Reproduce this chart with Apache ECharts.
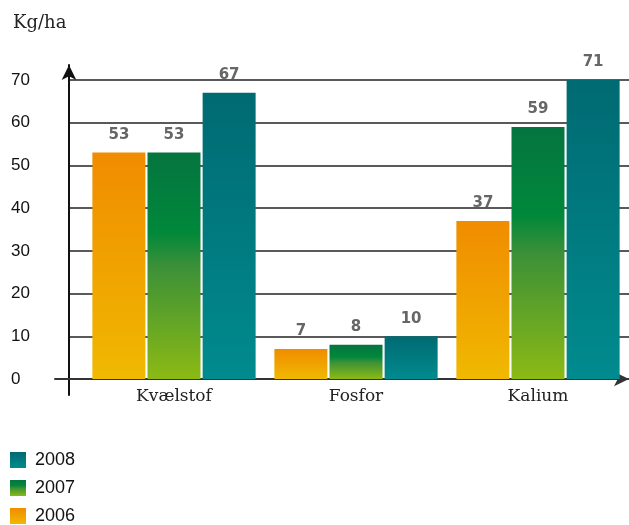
<!DOCTYPE html>
<html>
<head>
<meta charset="utf-8">
<script src="https://cdn.jsdelivr.net/npm/echarts@6/dist/echarts.min.js"></script>
<style>html,body{margin:0;padding:0;background:#fff}#c{width:629px;height:525px}</style>
</head>
<body>
<div id="c"></div>
<script>
const categories = ['Kvælstof', 'Fosfor', 'Kalium'];
const years = ['2006', '2007', '2008'];
const values2006 = [53, 7, 37];
const values2007 = [53, 8, 59];
const values2008 = [67, 10, 71];
const yTicks = [0, 10, 20, 30, 40, 50, 60, 70];
const unitLabel = 'Kg/ha';

const G = echarts.graphic.LinearGradient;
const colors = {
  '2006': new G(0, 0, 0, 1, [{offset: 0, color: '#F08C00'}, {offset: 1, color: '#F0B900'}]),
  '2007': new G(0, 0, 0, 1, [{offset: 0, color: '#05743F'}, {offset: 0.35, color: '#00883B'}, {offset: 0.5, color: '#3B9038'}, {offset: 1, color: '#8CBA14'}]),
  '2008': new G(0, 0, 0, 1, [{offset: 0, color: '#006A72'}, {offset: 1, color: '#008B8E'}])
};
const seriesValues = {'2006': values2006, '2007': values2007, '2008': values2008};

const chart = echarts.init(document.getElementById('c'), null, {renderer: 'canvas'});
const option = {
  animation: false,
  title: {
    text: unitLabel, left: 13, top: 14, padding: 0,
    textStyle: {fontFamily: 'DejaVu Serif', fontSize: 18, fontWeight: 'normal', color: '#222'}
  },
  legend: {
    data: ['2008', '2007', '2006'],
    orient: 'vertical', left: 10, top: 451, width: 120, height: 100, padding: 0,
    itemWidth: 16, itemHeight: 16, itemGap: 10, icon: 'rect',
    textStyle: {fontFamily: 'Liberation Sans', fontSize: 18, lineHeight: 16, padding: [0, 0, 0, 4], color: '#111'}
  },
  grid: [
    {left: 69, right: 0, top: 80, bottom: 146},
    {left: 83, width: 551, top: 80, bottom: 146},
    {left: 55, right: 0, top: 65, bottom: 130}
  ],
  xAxis: [
    {gridIndex: 0, type: 'category', data: categories, show: false},
    {gridIndex: 1, type: 'category', data: categories,
      axisLine: {show: false}, axisTick: {show: false},
      axisLabel: {margin: 9, fontFamily: 'DejaVu Serif', fontSize: 17, color: '#222'}},
    {gridIndex: 2, type: 'value', min: -14, max: 560,
      axisLine: {show: true, onZero: true, symbol: ['none', 'arrow'], symbolSize: [11, 15], lineStyle: {color: '#333', width: 2}},
      axisTick: {show: false}, axisLabel: {show: false}, splitLine: {show: false}}
  ],
  yAxis: [
    {gridIndex: 0, type: 'value', min: yTicks[0], max: yTicks[yTicks.length - 1], interval: 10,
      axisLine: {show: false}, axisTick: {show: false},
      axisLabel: {align: 'left', margin: 58, padding: [0, 0, 8, 0], fontFamily: 'Liberation Sans', fontSize: 17, color: '#111'},
      splitLine: {show: true, lineStyle: {color: '#222', width: 1.5}}},
    {gridIndex: 1, type: 'value', min: yTicks[0], max: yTicks[yTicks.length - 1], show: false},
    {gridIndex: 2, type: 'value', min: -16, max: 314,
      axisLine: {show: true, onZero: true, symbol: ['none', 'arrow'], symbolSize: [11, 15], lineStyle: {color: '#111', width: 2}},
      axisTick: {show: false}, axisLabel: {show: false}, splitLine: {show: false}}
  ],
  series: years.map(y => ({
    name: y, type: 'bar', xAxisIndex: 1, yAxisIndex: 1,
    data: seriesValues[y],
    barGap: '4%', barCategoryGap: '10.3%',
    itemStyle: {color: colors[y]},
    label: {show: true, position: 'top', distance: 10, fontFamily: 'DejaVu Sans', fontWeight: 'bold', fontSize: 15, color: '#666'}
  }))
};
chart.setOption(option);
</script>
</body>
</html>
